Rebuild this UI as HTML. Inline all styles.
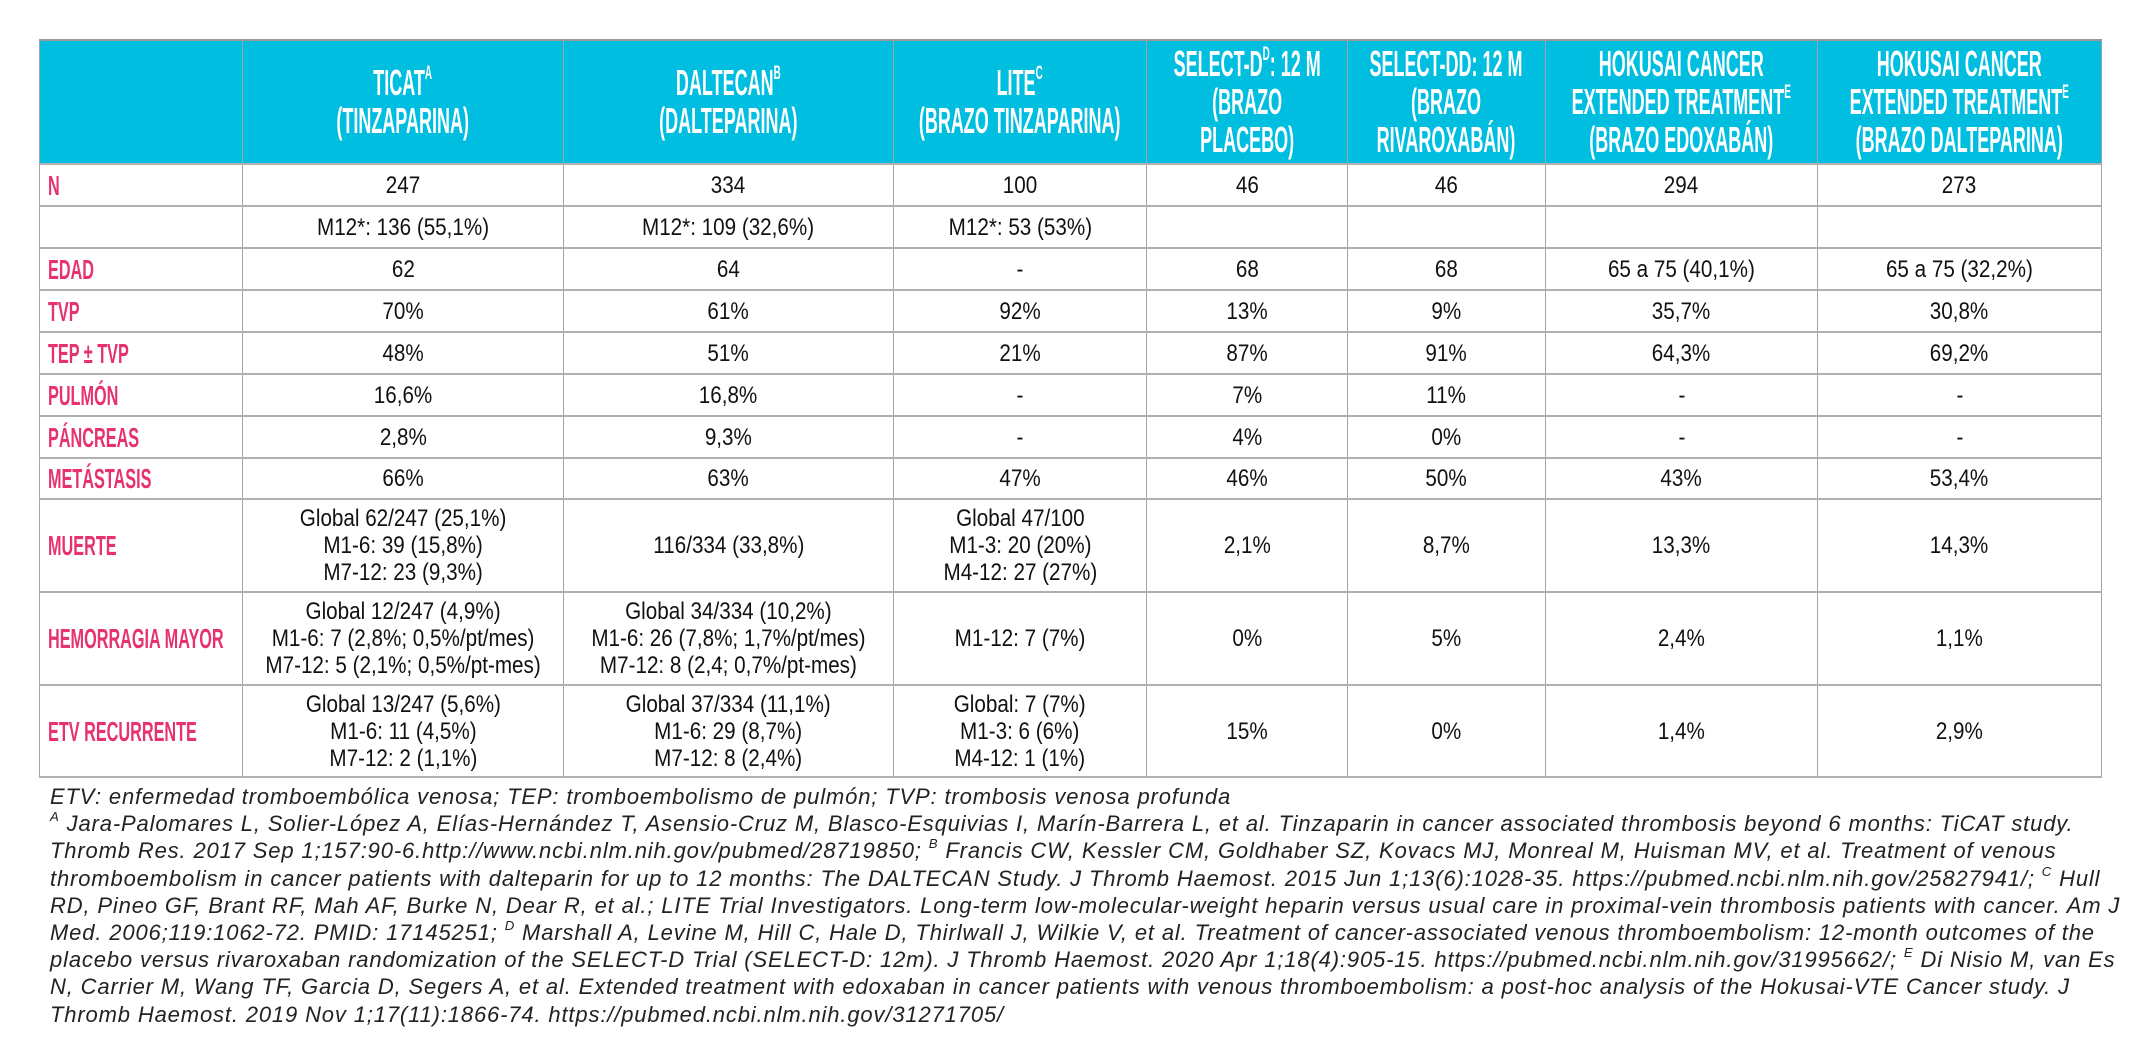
<!DOCTYPE html>
<html><head><meta charset="utf-8"><style>
html,body{margin:0;padding:0;background:#fff;width:2133px;height:1059px;overflow:hidden}
table{position:absolute;left:39px;top:39px;border-collapse:collapse;table-layout:fixed;width:2062px;font-family:"Liberation Sans",sans-serif}
td{border:1px solid #a3a3a3;border-top:2px solid #b0b0b0;border-bottom:2px solid #b0b0b0;text-align:center;vertical-align:middle;padding:0;color:#111;font-size:24px;line-height:27px;overflow:visible;white-space:nowrap}
tr.h td{background:#00bee0;color:#fff;font-weight:bold;font-size:36px;line-height:38px;border-top:2px solid #999}
.c{display:inline-block;transform:scaleX(0.5);transform-origin:center;margin:0 -300px}
.b{display:inline-block;transform:scaleX(0.86);transform-origin:center;margin:0 -100px}
td.l{text-align:left;padding-left:8px;color:#e6326e;font-weight:bold;font-size:28px}
td.l span{display:inline-block;transform:scaleX(0.58);transform-origin:left center}
sup{font-size:55%;vertical-align:top;line-height:1}
.fn{position:absolute;left:50px;top:783px;font-family:"Liberation Sans",sans-serif;font-style:italic;font-size:22px;line-height:27.2px;color:#222;white-space:nowrap;letter-spacing:0.85px}
.fn sup{font-size:60%}
</style></head><body>
<table>
<colgroup><col style="width:203px"><col style="width:321px"><col style="width:330px"><col style="width:253px"><col style="width:201px"><col style="width:198px"><col style="width:272px"><col style="width:284px"></colgroup>
<tr class="h" style="height:124px"><td></td>
<td><span class="c">TICAT<sup>A</sup><br>(TINZAPARINA)</span></td>
<td><span class="c">DALTECAN<sup>B</sup><br>(DALTEPARINA)</span></td>
<td><span class="c">LITE<sup>C</sup><br>(BRAZO TINZAPARINA)</span></td>
<td><span class="c">SELECT-D<sup>D</sup>: 12 M<br>(BRAZO<br>PLACEBO)</span></td>
<td><span class="c">SELECT-DD: 12 M<br>(BRAZO<br>RIVAROXABÁN)</span></td>
<td><span class="c">HOKUSAI CANCER<br>EXTENDED TREATMENT<sup>E</sup><br>(BRAZO EDOXABÁN)</span></td>
<td><span class="c">HOKUSAI CANCER<br>EXTENDED TREATMENT<sup>E</sup><br>(BRAZO DALTEPARINA)</span></td></tr>
<tr style="height:42px"><td class="l"><span>N</span></td><td><span class="b">247</span></td><td><span class="b">334</span></td><td><span class="b">100</span></td><td><span class="b">46</span></td><td><span class="b">46</span></td><td><span class="b">294</span></td><td><span class="b">273</span></td></tr>
<tr style="height:42px"><td></td><td><span class="b">M12*: 136 (55,1%)</span></td><td><span class="b">M12*: 109 (32,6%)</span></td><td><span class="b">M12*: 53 (53%)</span></td><td></td><td></td><td></td><td></td></tr>
<tr style="height:42px"><td class="l"><span>EDAD</span></td><td><span class="b">62</span></td><td><span class="b">64</span></td><td><span class="b">-</span></td><td><span class="b">68</span></td><td><span class="b">68</span></td><td><span class="b">65 a 75 (40,1%)</span></td><td><span class="b">65 a 75 (32,2%)</span></td></tr>
<tr style="height:42px"><td class="l"><span>TVP</span></td><td><span class="b">70%</span></td><td><span class="b">61%</span></td><td><span class="b">92%</span></td><td><span class="b">13%</span></td><td><span class="b">9%</span></td><td><span class="b">35,7%</span></td><td><span class="b">30,8%</span></td></tr>
<tr style="height:42px"><td class="l"><span>TEP ± TVP</span></td><td><span class="b">48%</span></td><td><span class="b">51%</span></td><td><span class="b">21%</span></td><td><span class="b">87%</span></td><td><span class="b">91%</span></td><td><span class="b">64,3%</span></td><td><span class="b">69,2%</span></td></tr>
<tr style="height:42px"><td class="l"><span>PULMÓN</span></td><td><span class="b">16,6%</span></td><td><span class="b">16,8%</span></td><td><span class="b">-</span></td><td><span class="b">7%</span></td><td><span class="b">11%</span></td><td><span class="b">-</span></td><td><span class="b">-</span></td></tr>
<tr style="height:42px"><td class="l"><span>PÁNCREAS</span></td><td><span class="b">2,8%</span></td><td><span class="b">9,3%</span></td><td><span class="b">-</span></td><td><span class="b">4%</span></td><td><span class="b">0%</span></td><td><span class="b">-</span></td><td><span class="b">-</span></td></tr>
<tr style="height:41px"><td class="l"><span>METÁSTASIS</span></td><td><span class="b">66%</span></td><td><span class="b">63%</span></td><td><span class="b">47%</span></td><td><span class="b">46%</span></td><td><span class="b">50%</span></td><td><span class="b">43%</span></td><td><span class="b">53,4%</span></td></tr>
<tr style="height:93px"><td class="l"><span>MUERTE</span></td><td><span class="b">Global 62/247 (25,1%)<br>M1-6: 39 (15,8%)<br>M7-12: 23 (9,3%)</span></td><td><span class="b">116/334 (33,8%)</span></td><td><span class="b">Global 47/100<br>M1-3: 20 (20%)<br>M4-12: 27 (27%)</span></td><td><span class="b">2,1%</span></td><td><span class="b">8,7%</span></td><td><span class="b">13,3%</span></td><td><span class="b">14,3%</span></td></tr>
<tr style="height:93px"><td class="l"><span>HEMORRAGIA MAYOR</span></td><td><span class="b">Global 12/247 (4,9%)<br>M1-6: 7 (2,8%; 0,5%/pt/mes)<br>M7-12: 5 (2,1%; 0,5%/pt-mes)</span></td><td><span class="b">Global 34/334 (10,2%)<br>M1-6: 26 (7,8%; 1,7%/pt/mes)<br>M7-12: 8 (2,4; 0,7%/pt-mes)</span></td><td><span class="b">M1-12: 7 (7%)</span></td><td><span class="b">0%</span></td><td><span class="b">5%</span></td><td><span class="b">2,4%</span></td><td><span class="b">1,1%</span></td></tr>
<tr style="height:92px"><td class="l"><span>ETV RECURRENTE</span></td><td><span class="b">Global 13/247 (5,6%)<br>M1-6: 11 (4,5%)<br>M7-12: 2 (1,1%)</span></td><td><span class="b">Global 37/334 (11,1%)<br>M1-6: 29 (8,7%)<br>M7-12: 8 (2,4%)</span></td><td><span class="b">Global: 7 (7%)<br>M1-3: 6 (6%)<br>M4-12: 1 (1%)</span></td><td><span class="b">15%</span></td><td><span class="b">0%</span></td><td><span class="b">1,4%</span></td><td><span class="b">2,9%</span></td></tr>
</table>
<div class="fn">
<div>ETV: enfermedad tromboembólica venosa; TEP: tromboembolismo de pulmón; TVP: trombosis venosa profunda</div>
<div><sup>A</sup> Jara-Palomares L, Solier-López A, Elías-Hernández T, Asensio-Cruz M, Blasco-Esquivias I, Marín-Barrera L, et al. Tinzaparin in cancer associated thrombosis beyond 6 months: TiCAT study.</div>
<div>Thromb Res. 2017 Sep 1;157:90-6.http://www.ncbi.nlm.nih.gov/pubmed/28719850; <sup>B</sup> Francis CW, Kessler CM, Goldhaber SZ, Kovacs MJ, Monreal M, Huisman MV, et al. Treatment of venous</div>
<div>thromboembolism in cancer patients with dalteparin for up to 12 months: The DALTECAN Study. J Thromb Haemost. 2015 Jun 1;13(6):1028-35. https://pubmed.ncbi.nlm.nih.gov/25827941/; <sup>C</sup> Hull</div>
<div>RD, Pineo GF, Brant RF, Mah AF, Burke N, Dear R, et al.; LITE Trial Investigators. Long-term low-molecular-weight heparin versus usual care in proximal-vein thrombosis patients with cancer. Am J</div>
<div>Med. 2006;119:1062-72. PMID: 17145251; <sup>D</sup> Marshall A, Levine M, Hill C, Hale D, Thirlwall J, Wilkie V, et al. Treatment of cancer-associated venous thromboembolism: 12-month outcomes of the</div>
<div>placebo versus rivaroxaban randomization of the SELECT-D Trial (SELECT-D: 12m). J Thromb Haemost. 2020 Apr 1;18(4):905-15. https://pubmed.ncbi.nlm.nih.gov/31995662/; <sup>E</sup> Di Nisio M, van Es</div>
<div>N, Carrier M, Wang TF, Garcia D, Segers A, et al. Extended treatment with edoxaban in cancer patients with venous thromboembolism: a post-hoc analysis of the Hokusai-VTE Cancer study. J</div>
<div>Thromb Haemost. 2019 Nov 1;17(11):1866-74. https://pubmed.ncbi.nlm.nih.gov/31271705/</div>
</div>
</body></html>
